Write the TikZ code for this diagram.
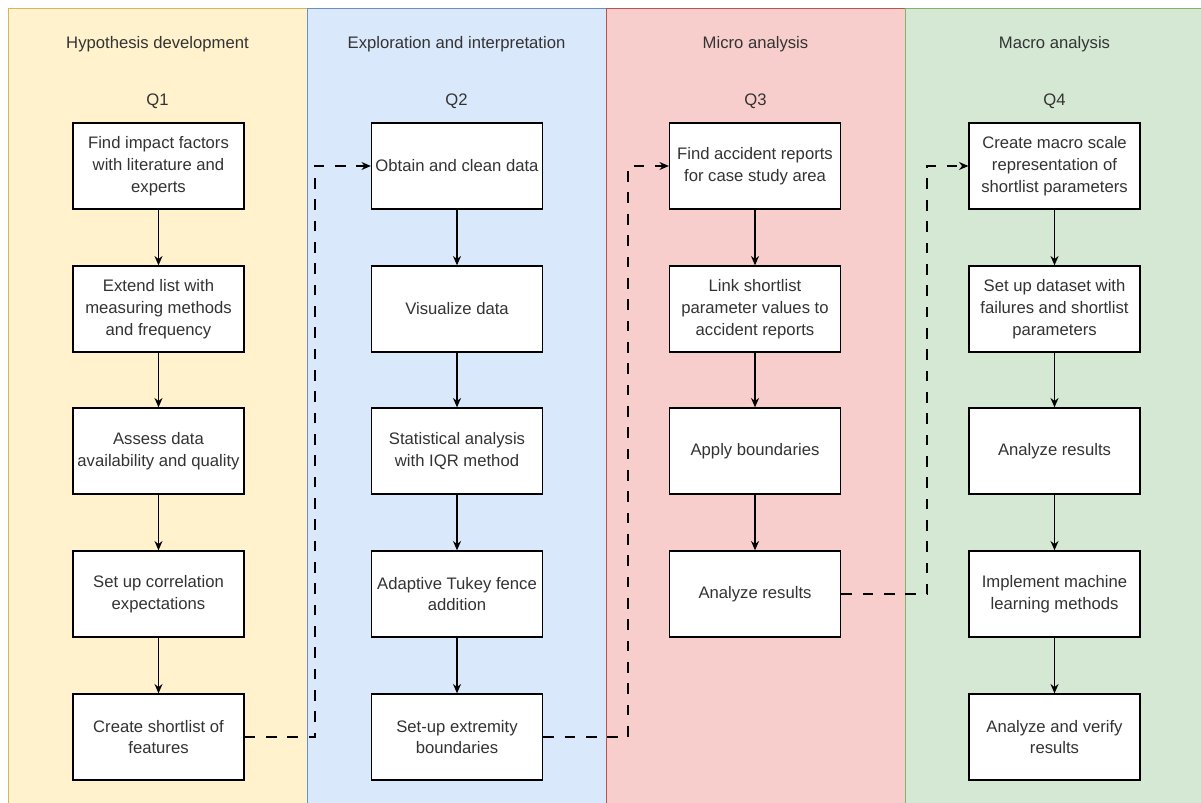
\documentclass[tikz,border=0pt]{standalone}
\usepackage{fontspec}
\setmainfont{Liberation Sans}
\usetikzlibrary{arrows.meta}

\definecolor{laneYfill}{HTML}{FFF2CC}
\definecolor{laneYline}{HTML}{D6B656}
\definecolor{laneBfill}{HTML}{DAE8FC}
\definecolor{laneBline}{HTML}{6C8EBF}
\definecolor{laneRfill}{HTML}{F8CECC}
\definecolor{laneRline}{HTML}{B85450}
\definecolor{laneGfill}{HTML}{D5E8D4}
\definecolor{laneGline}{HTML}{82B366}

\tikzset{every picture/.style={line width=0.75pt}}
\tikzset{
  stepbox/.style={draw=black,fill=white,line width=1pt,minimum width=128.25pt,minimum height=64.5pt,inner sep=0pt,align=center,text=black!80,font=\fontsize{12.5}{16.3}\selectfont},
  lanelabel/.style={inner sep=0pt,text=black!80,font=\fontsize{12.5}{16.3}\selectfont},
  flow/.style={line width=1pt,-{Stealth[length=7pt,width=6pt]}},
  jump/.style={flow,dash pattern=on 8pt off 8pt},
}

\begin{document}
\begin{tikzpicture}[x=0.75pt,y=0.75pt,yscale=-1,xscale=1]
\useasboundingbox (0,0) rectangle (1201,802);

%Shape: Lanes
\draw [draw=laneYline,fill=laneYfill] (8,9) rectangle (307,812);
\draw [draw=laneBline,fill=laneBfill] (307,9) rectangle (606,812);
\draw [draw=laneRline,fill=laneRfill] (606,9) rectangle (905,812);
\draw [draw=laneGline,fill=laneGfill] (905,9) rectangle (1210,812);

% Lane titles
\node [lanelabel] (hyp) at (157.5,44) {Hypothesis development};
\node [lanelabel] (expl) at (456.5,44) {Exploration and interpretation};
\node [lanelabel] (micro) at (755.5,44) {Micro analysis};
\node [lanelabel] (macro) at (1054.5,44) {Macro analysis};
\node [lanelabel] (q1) at (157.5,101) {Q1};
\node [lanelabel] (q2) at (456.5,101) {Q2};
\node [lanelabel] (q3) at (755.5,101) {Q3};
\node [lanelabel] (q4) at (1054.5,101) {Q4};

%Shape: Rectangle -- Q1
\node [stepbox] (hyp1) at (158.5,166) {Find impact factors\\with literature and\\experts};
\node [stepbox] (hyp2) at (158.5,309) {Extend list with\\measuring methods\\and frequency};
\node [stepbox] (hyp3) at (158.5,451) {Assess data\\availability and quality};
\node [stepbox] (hyp4) at (158.5,594) {Set up correlation\\expectations};
\node [stepbox] (hyp5) at (158.5,737) {Create shortlist of\\features};

%Shape: Rectangle -- Q2
\node [stepbox] (expl1) at (457,166) {Obtain and clean data};
\node [stepbox] (expl2) at (457,309) {Visualize data};
\node [stepbox] (expl3) at (457,451) {Statistical analysis\\with IQR method};
\node [stepbox] (expl4) at (457,594) {Adaptive Tukey fence\\addition};
\node [stepbox] (expl5) at (457,737) {Set-up extremity\\boundaries};

%Shape: Rectangle -- Q3
\node [stepbox] (micro1) at (755,166) {Find accident reports\\for case study area};
\node [stepbox] (micro2) at (755,309) {Link shortlist\\parameter values to\\accident reports};
\node [stepbox] (micro3) at (755,451) {Apply boundaries};
\node [stepbox] (micro4) at (755,594) {Analyze results};

%Shape: Rectangle -- Q4
\node [stepbox] (macro1) at (1054.5,166) {Create macro scale\\representation of\\shortlist parameters};
\node [stepbox] (macro2) at (1054.5,309) {Set up dataset with\\failures and shortlist\\parameters};
\node [stepbox] (macro3) at (1054.5,451) {Analyze results};
\node [stepbox] (macro4) at (1054.5,594) {Implement machine\\learning methods};
\node [stepbox] (macro5) at (1054.5,737) {Analyze and verify\\results};

%Straight Lines
\draw [flow] (hyp1) -- (hyp2);
\draw [flow] (hyp2) -- (hyp3);
\draw [flow] (hyp3) -- (hyp4);
\draw [flow] (hyp4) -- (hyp5);
\draw [flow] (expl1) -- (expl2);
\draw [flow] (expl2) -- (expl3);
\draw [flow] (expl3) -- (expl4);
\draw [flow] (expl4) -- (expl5);
\draw [flow] (micro1) -- (micro2);
\draw [flow] (micro2) -- (micro3);
\draw [flow] (micro3) -- (micro4);
\draw [flow] (macro1) -- (macro2);
\draw [flow] (macro2) -- (macro3);
\draw [flow] (macro3) -- (macro4);
\draw [flow] (macro4) -- (macro5);

%Dashed connectors between lanes
\coordinate (bendA) at (315,450);
\coordinate (bendB) at (628,450);
\coordinate (bendC) at (927,400);
\draw [jump] (hyp5.east) -| (bendA) |- (expl1.west);
\draw [jump] (expl5.east) -| (bendB) |- (micro1.west);
\draw [jump] (micro4.east) -| (bendC) |- (macro1.west);

\end{tikzpicture}
\end{document}
